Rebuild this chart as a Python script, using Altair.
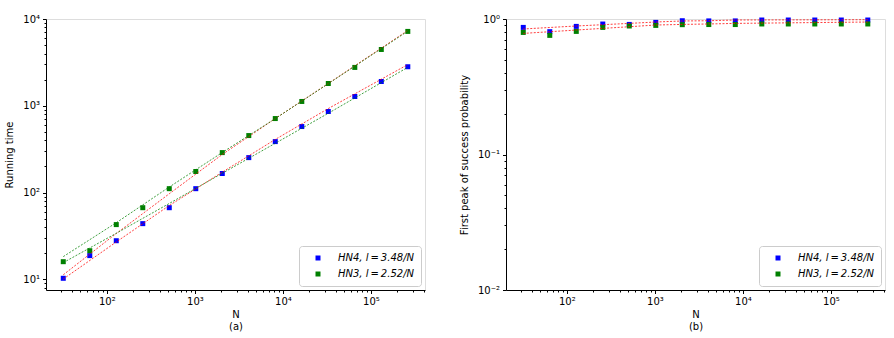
import altair as alt
import pandas as pd

# ---- data ----
N = [32, 64, 128, 256, 512, 1024, 2048, 4096, 8192, 16384, 32768, 65536, 131072, 262144]
hn4_time = [10.3, 18.8, 27.9, 43.9, 67, 111, 166, 253, 387, 577, 859, 1280, 1905, 2818]
hn3_time = [16.0, 21.4, 42.8, 67, 111, 175, 289, 454, 713, 1122, 1807, 2768, 4456, 7194]
hn4_prob = [0.867, 0.806, 0.882, 0.918, 0.912, 0.944, 0.971, 0.968, 0.968, 0.983, 0.983, 0.983, 0.983, 0.983]
hn3_prob = [0.796, 0.757, 0.810, 0.867, 0.888, 0.897, 0.908, 0.910, 0.910, 0.919, 0.919, 0.919, 0.919, 0.919]

# fitted curves
fitN = [32, 128, 512, 2048, 8192, 32768, 262144]
hn3_fit_red = [11.3, 33.8, 97, 275, 713, 1807, 7380]
hn3_fit_green = [18.3, 45, 116, 290, 713, 1800, 7250]
hn4_fit_red = [10.1, 27, 71, 172, 410, 930, 2985]
hn4_fit_green = [15.6, 34, 75, 167, 370, 820, 2775]

pfitN = [32, 128, 512, 1024, 2048, 4096, 8192, 262144]
hn4_pfit = [0.844, 0.888, 0.928, 0.950, 0.967, 0.971, 0.983, 0.988]
hn3_pfit = [0.783, 0.829, 0.877, 0.903, 0.912, 0.919, 0.928, 0.950]

LAB4 = "HN4, l\u2009=\u20093.48/N"
LAB3 = "HN3, l\u2009=\u20092.52/N"

pts_time = pd.DataFrame({"N": N * 2, "v": hn4_time + hn3_time,
                         "s": [LAB4] * len(N) + [LAB3] * len(N)})
pts_prob = pd.DataFrame({"N": N * 2, "v": hn4_prob + hn3_prob,
                         "s": [LAB4] * len(N) + [LAB3] * len(N)})

rows = []
for name, col, vals in [("hn3r", "red", hn3_fit_red), ("hn3g", "green", hn3_fit_green),
                        ("hn4r", "red", hn4_fit_red), ("hn4g", "green", hn4_fit_green)]:
    for n, v in zip(fitN, vals):
        rows.append({"N": n, "v": v, "id": name, "c": col})
fit_time = pd.DataFrame(rows)
rows = []
for name, vals in [("p4", hn4_pfit), ("p3", hn3_pfit)]:
    for n, v in zip(pfitN, vals):
        rows.append({"N": n, "v": v, "id": name, "c": "red"})
fit_prob = pd.DataFrame(rows)

FONT = "DejaVu Sans"
SUP = {-2: "⁻²", -1: "⁻¹", 0: "⁰", 1: "¹", 2: "²", 3: "³", 4: "⁴", 5: "⁵"}
E = "round(log(datum.value)/LN10)"
MINOR = f"abs(log(datum.value)/LN10 - {E}) > 0.001"
sup_expr = "'⁵'"
for k in sorted(SUP.keys(), reverse=True)[1:]:
    sup_expr = f"({E}=={k} ? '{SUP[k]}' : {sup_expr})"
LABEL_EXPR = f"{MINOR} ? '' : '10' + {sup_expr}"


def ticks(lo, hi):
    out = []
    for e in range(-3, 7):
        for m in range(1, 10):
            t = m * 10 ** e
            if lo <= t <= hi:
                out.append(round(t, 6))
    return out


def axis(title, lo, hi, **kw):
    return alt.Axis(
        title=title, values=ticks(lo, hi), labelExpr=LABEL_EXPR,
        tickSize={"condition": {"test": MINOR, "value": 2}, "value": 3.5},
        tickColor="black", domainColor="black", labelColor="black",
        labelFont=FONT, labelFontSize=10, titleFont=FONT, titleFontSize=10,
        titleFontWeight="normal", titleColor="black", grid=False,
        labelPadding=3, labelFlush=False, labelOverlap=False, **kw)


XDOM = [20.37, 411000]


def panel(pts, fits, ydom, ytitle, sub):
    x = alt.X("N:Q", scale=alt.Scale(type="log", domain=XDOM, nice=False),
              axis=axis(["N", sub], XDOM[0], XDOM[1], titlePadding=3))
    y = alt.Y("v:Q", scale=alt.Scale(type="log", domain=ydom, nice=False),
              axis=axis(ytitle, ydom[0], ydom[1], titlePadding=8))
    lines = alt.Chart(fits).mark_line(strokeDash=[2, 1.5], strokeWidth=1, opacity=0.75).encode(
        x=x, y=y, detail="id:N", stroke=alt.Stroke("c:N", scale=None, legend=None))
    points = alt.Chart(pts).mark_square(size=25, opacity=1).encode(
        x=x, y=y,
        color=alt.Color("s:N", scale=alt.Scale(domain=[LAB4, LAB3], range=["#0000ff", "#008000"]),
                        legend=alt.Legend(title=None, orient="bottom-right", offset=4,
                                          labelFont=FONT, labelFontSize=10, labelFontStyle="italic",
                                          labelColor="black", symbolType="square", symbolSize=25,
                                          symbolOpacity=1, symbolOffset=7,
                                          strokeColor="#cccccc", fillColor="white", padding=7,
                                          cornerRadius=3, rowPadding=6, labelOffset=15)))
    return alt.layer(points, lines).properties(width=379, height=271)


left = panel(pts_time, fit_time, [7.55, 10000], "Running time", "(a)")
right = panel(pts_prob, fit_prob, [0.01, 1], "First peak of success probability", "(b)")

chart = alt.hconcat(left, right, spacing=32).resolve_scale(color="independent").resolve_legend(
    color="independent").properties(
    padding={"left": 4, "top": 13, "right": 5, "bottom": 5}
).configure_view(stroke="black", strokeWidth=1).configure(background="white")

chart.save("out.html", embed_options={"renderer": "svg", "actions": False})
